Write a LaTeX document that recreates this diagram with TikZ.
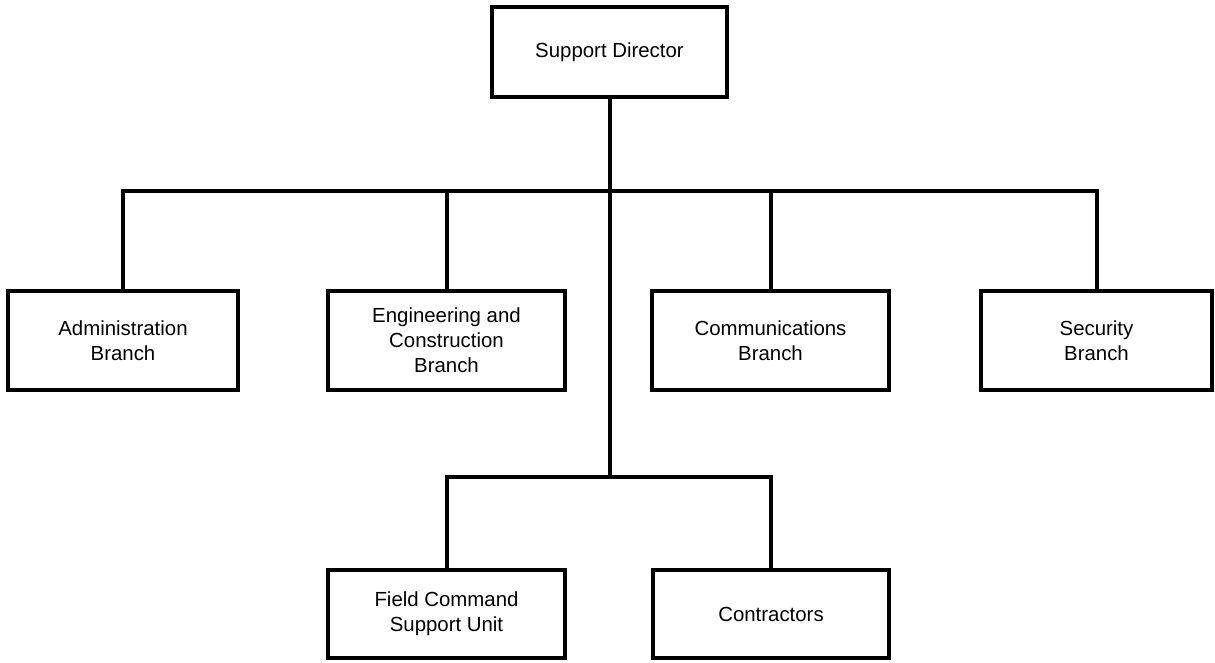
\documentclass[tikz,border=0pt]{standalone}
\usepackage{fontspec}
\setmainfont{Liberation Sans}
\begin{document}
\begin{tikzpicture}[x=1pt,y=-1pt,
  orgbox/.style={draw, line width=3.5pt, inner sep=0pt, align=center,
    font=\fontsize{20.4}{25}\selectfont, minimum height=99pt},
  link/.style={line width=4pt}]
\useasboundingbox (0,0) rectangle (1215,663);
\node[orgbox, minimum width=235pt, minimum height=90pt] (dir) at (609.5,52) {\raisebox{-3pt}{Support Director}};
\node[orgbox, minimum width=230pt] (adm) at (123,340.5) {Administration\\Branch};
\node[orgbox, minimum width=237pt] (eng) at (446.5,340.5) {Engineering and\\Construction\\Branch};
\node[orgbox, minimum width=237pt] (com) at (770.5,340.5) {Communications\\Branch};
\node[orgbox, minimum width=231pt] (sec) at (1096.5,340.5) {Security\\Branch};
\node[orgbox, minimum width=237pt, minimum height=88pt] (fld) at (446.5,614) {Field Command\\Support Unit};
\node[orgbox, minimum width=236pt, minimum height=88pt] (con) at (771,614) {Contractors};
\coordinate (topbus) at (0,191);
\coordinate (lowbus) at (0,477);
\draw[link] (dir.south) -- (dir.south |- lowbus);
\draw[link] (adm.north) -- (adm.north |- topbus) -- (sec.north |- topbus) -- (sec.north);
\draw[link] (eng.north) -- (eng.north |- topbus);
\draw[link] (com.north) -- (com.north |- topbus);
\draw[link] (fld.north) -- (fld.north |- lowbus) -- (con.north |- lowbus) -- (con.north);
\end{tikzpicture}
\end{document}
